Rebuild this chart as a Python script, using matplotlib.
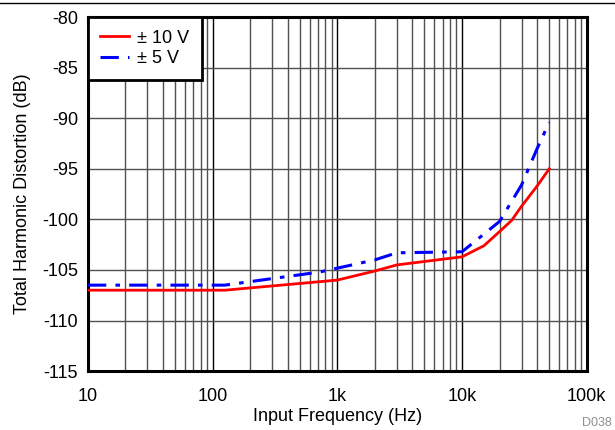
import matplotlib
matplotlib.use("Agg")
import matplotlib.pyplot as plt
from matplotlib.lines import Line2D
from matplotlib.ticker import FixedLocator, LogLocator, NullFormatter

plt.rcParams['font.family'] = ['Liberation Sans', 'DejaVu Sans']

freq_10v = [10, 20, 50, 100, 125, 1000, 2000, 3000, 10000, 15000, 20000, 25000, 30000, 40000, 50000]
thd_10v = [-107, -107, -107, -107, -107, -106.0, -105.1, -104.5, -103.7, -102.6, -101.2, -100.1, -98.7, -96.7, -95.0]

freq_5v = [10, 20, 50, 100, 125, 725, 2000, 3000, 10000, 20000, 30000, 40000, 50000]
thd_5v = [-106.5, -106.5, -106.5, -106.5, -106.5, -105.2, -104.0, -103.3, -103.2, -100.2, -96.6, -93.0, -90.4]

xticks = [10, 100, 1000, 10000, 100000]
xticklabels = ['10', '100', '1k', '10k', '100k']
yticks = [-115, -110, -105, -100, -95, -90, -85, -80]

FS = 13

fig = plt.figure(figsize=(6.15, 4.30), dpi=100)
ax = fig.add_axes([0.143, 0.137, 0.811, 0.823])

ax.plot(freq_10v, thd_10v, color='#ff0000', lw=2, label='± 10 V', zorder=3)
ax.plot(freq_5v, thd_5v, color='#0000ff', lw=2.2, linestyle=(0, (6, 3, 1.5, 3)), label='± 5 V', zorder=3)

ax.set_xscale('log')
ax.set_xlim(10, 100000)
ax.set_ylim(-115, -80)
ax.xaxis.set_major_locator(FixedLocator(xticks))
ax.set_xticklabels(xticklabels)
ax.xaxis.set_minor_locator(LogLocator(base=10, subs=range(2, 10)))
ax.xaxis.set_minor_formatter(NullFormatter())
ax.set_yticks(yticks)
ax.set_yticklabels([str(v) for v in yticks])

ax.grid(True, which='major', axis='x', color='black', lw=1)
ax.grid(True, which='minor', axis='x', color='#505050', lw=1)
ax.grid(True, which='major', axis='y', color='#505050', lw=1)
ax.tick_params(which='both', length=0, labelsize=FS)
ax.tick_params(axis='y', pad=7)
ax.tick_params(axis='x', pad=12)

for s in ax.spines.values():
    s.set_linewidth(2.2)
    s.set_color('black')

ax.set_xlabel('Input Frequency (Hz)', fontsize=FS, labelpad=2)
ax.set_ylabel('Total Harmonic Distortion (dB)', fontsize=FS, labelpad=8)

leg = ax.legend(loc='upper left', bbox_to_anchor=(0, 1), borderaxespad=0, fontsize=FS,
                fancybox=False, framealpha=1, edgecolor='black', handlelength=1.6,
                handletextpad=0.45, borderpad=0.69, labelspacing=0.2)
leg.get_frame().set_linewidth(2)

fig.add_artist(Line2D([0, 1], [1 - 2.5 / 430, 1 - 2.5 / 430], transform=fig.transFigure,
                      color='black', lw=1))

fig.text(0.995, 0.003, 'D038', ha='right', va='bottom', fontsize=9, color='#909090')

fig.savefig('out.png', dpi=100)
